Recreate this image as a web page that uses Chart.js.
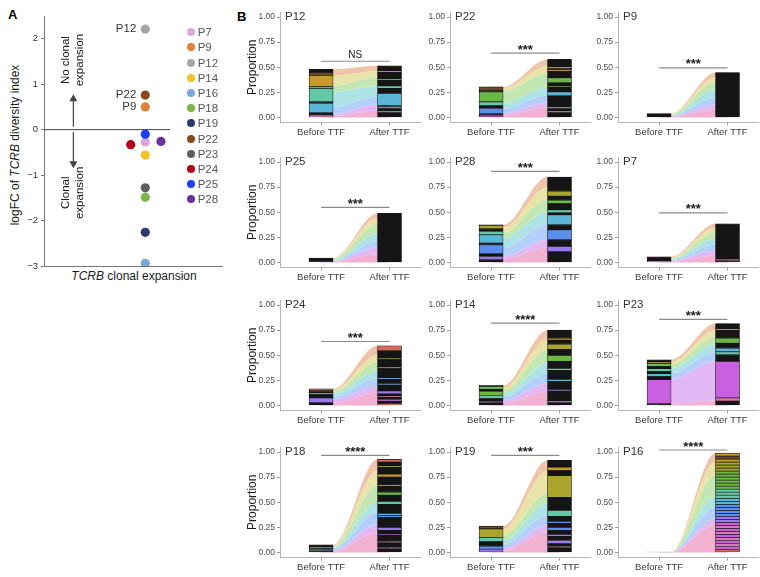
<!DOCTYPE html>
<html>
<head>
<meta charset="utf-8">
<title>TCRB clonal expansion before and after TTF</title>
<script src="https://cdn.jsdelivr.net/npm/chart.js@4.4.1/dist/chart.umd.min.js"></script>
<style>
  html, body { margin:0; padding:0; background:#fff; }
  #fig { position:relative; width:760px; height:577px; overflow:hidden; font-family:'Liberation Sans', Arial, sans-serif; }
  #fig canvas { position:absolute; }
  .txt { position:absolute; white-space:nowrap; line-height:1; color:#1a1a1a; }
  .letter { font-weight:bold; font-size:13px; line-height:13px; color:#000; }
  .leg { position:absolute; left:186.7px; height:12px; display:flex; align-items:center; font-size:11.5px; color:#555; }
  .leg i { display:inline-block; width:8px; height:8px; border-radius:50%; margin-right:3px; }
</style>
</head>
<body>
<div id="fig">
  <div class="txt letter" style="left:8px;top:8px">A</div>
  <div class="txt letter" style="left:237px;top:10px">B</div>
  <div class="txt" style="left:15px;top:145px;font-size:12px;transform:translate(-50%,-50%) rotate(-90deg)">logFC of <i>TCRB</i> diversity index</div>
  <div class="txt" style="left:134px;top:276px;font-size:12px;transform:translate(-50%,-50%)"><i>TCRB</i> clonal expansion</div>
</div>
<script>
// ---------- panel A: logFC of TCRB diversity index ----------
const patients  = ['P7','P9','P12','P14','P16','P18','P19','P22','P23','P24','P25','P28'];
const logFC     = [-0.27, 0.50, 2.21, -0.56, -2.94, -1.49, -2.26, 0.76, -1.28, -0.33, -0.10, -0.26];
const jitterX   = [0.569, 0.569, 0.569, 0.569, 0.569, 0.569, 0.569, 0.569, 0.569, 0.487, 0.569, 0.657];
const dotColors = ['#d8a8dc','#e0803a','#a6a6a6','#f7c12a','#7aa6e0','#7ab648',
                   '#2b3a6e','#8b4a1a','#5e5e5e','#b3001b','#1f3ff5','#6b2fa0'];
const labelled  = ['P12','P22','P9'];
const logTicks  = [-3, -2, -1, 0, 1, 2];

// ---------- panel B: clone proportions before / after TTF ----------
const panelOrder = ['P12','P22','P9','P25','P28','P7','P24','P14','P23','P18','P19','P16'];
const timeLabels = ['Before TTF','After TTF'];
const propTicks  = [0, 0.25, 0.5, 0.75, 1];
const sigText    = ['NS','***','***','***','***','***','***','****','***','****','***','****'];
const sigLevel   = [0.56, 0.64, 0.495, 0.548, 0.907, 0.495, 0.637, 0.82, 0.858, 0.967, 0.967, 1.02];

// bar segments, bottom to top (proportions) and their colour codes
const beforeSegs = [
  [0.012,0.011,0.023,0.094,0.016,0.134,0.02,0.11,0.03,0.03],
  [0.025,0.015,0.05,0.03,0.035,0.1,0.015,0.035],
  [0.04],
  [0.008,0.035],
  [0.027,0.033,0.026,0.09,0.017,0.083,0.033,0.027,0.03,0.009],
  [0.012,0.045],
  [0.026,0.05,0.033,0.02,0.016,0.02],
  [0.03,0.01,0.03,0.03,0.04,0.02,0.03,0.01],
  [0.02,0.237,0.03,0.03,0.02,0.03,0.02,0.03,0.015,0.023],
  [0.02,0.01,0.015,0.01,0.022],
  [0.033,0.03,0.047,0.04,0.085,0.028],
  [0.005]
];
const beforeCols = ['pvksktgynk','mkbktgkn','k','vk','kvkbkstkok','pk','kvkgkr','kmktgkgk','kmksktkgyk','ktkgk','vbkton','k'];
const afterSegs = [
  [0.05,0.015,0.025,0.015,0.015,0.12,0.05,0.025,0.055,0.015,0.065,0.015,0.05],
  [0.05,0.015,0.025,0.015,0.11,0.04,0.045,0.01,0.035,0.05,0.065,0.015,0.015,0.015,0.073],
  [0.448],
  [0.49],
  [0.11,0.05,0.066,0.1,0.049,0.1,0.02,0.03,0.06,0.035,0.04,0.05,0.14],
  [0.02,0.012,0.353],
  [0.02,0.025,0.015,0.025,0.01,0.02,0.03,0.06,0.015,0.04,0.015,0.1,0.01,0.08,0.01,0.07,0.049],
  [0.03,0.015,0.1,0.015,0.08,0.02,0.09,0.02,0.07,0.06,0.06,0.05,0.04,0.02,0.08],
  [0.045,0.03,0.365,0.065,0.03,0.035,0.05,0.05,0.08,0.015,0.05],
  [0.04,0.01,0.05,0.01,0.06,0.01,0.04,0.03,0.1,0.02,0.02,0.09,0.03,0.06,0.03,0.06,0.01,0.08,0.03,0.07,0.01,0.04,0.027],
  [0.05,0.01,0.03,0.03,0.04,0.02,0.04,0.03,0.04,0.02,0.05,0.06,0.13,0.215,0.05,0.035,0.067],
  [0.03,0.03,0.03,0.03,0.03,0.03,0.03,0.03,0.03,0.03,0.03,0.03,0.03,0.03,0.03,0.03,0.03,
   0.03,0.03,0.03,0.03,0.03,0.03,0.03,0.03,0.03,0.03,0.03,0.03,0.03,0.03,0.03,0.03]
];
const afterCols = ['kvkbksktkgkyk','kmkmkskgkgkykyk','k','k','kvkbksktkgkok','kmk','rkmkpkvkskbkokokr',
                   'kmkvksktkgkokyk','kpmktskgkyk','kmkpkmkvkbsktkgkokykokr','kpkvkvkbkbktkokyk',
                   'rmpmpmpmpmvvbbbbsstttggggggoooyny'];

// alluvial flow bands (pink, lilac, blue, cyan, green, yellow, orange), bottom to top
const flowBefore = [
  [0.015,0.02,0.07,0.15,0.06,0.1,0.065],
  [0.02,0.02,0.05,0.05,0.12,0.03,0.015],
  [0.005,0.005,0.006,0.006,0.007,0.006,0.005],
  [0.005,0.005,0.006,0.007,0.008,0.006,0.006],
  [0.03,0.03,0.08,0.1,0.06,0.045,0.03],
  [0.007,0.008,0.008,0.008,0.009,0.009,0.008],
  [0.03,0.03,0.03,0.025,0.02,0.015,0.015],
  [0.025,0.025,0.03,0.03,0.04,0.025,0.025],
  [0.02,0.24,0.06,0.05,0.04,0.025,0.02],
  [0.01,0.01,0.012,0.012,0.013,0.01,0.01],
  [0.02,0.02,0.04,0.04,0.05,0.063,0.03],
  [0.001,0.0005,0.001,0.0005,0.001,0.0005,0.0005]
];
const flowAfter = [
  [0.07,0.06,0.08,0.1,0.09,0.06,0.055],
  [0.1,0.05,0.07,0.08,0.14,0.07,0.068],
  [0.08,0.05,0.07,0.08,0.07,0.05,0.048],
  [0.09,0.06,0.06,0.08,0.09,0.06,0.05],
  [0.15,0.08,0.15,0.12,0.13,0.12,0.1],
  [0.07,0.05,0.06,0.06,0.06,0.045,0.04],
  [0.13,0.06,0.08,0.07,0.09,0.07,0.094],
  [0.14,0.08,0.1,0.1,0.13,0.11,0.09],
  [0.05,0.39,0.09,0.08,0.08,0.06,0.065],
  [0.2,0.08,0.12,0.1,0.17,0.14,0.117],
  [0.2,0.07,0.1,0.12,0.1,0.22,0.107],
  [0.28,0.05,0.12,0.1,0.22,0.13,0.09]
];

// ---------- styles ----------
const FONT = "'Liberation Sans', Arial, sans-serif";
const SEG = { k:'#151515', m:'#c860e0', p:'#e078b0', v:'#9a78ee', b:'#5a8ef0', s:'#5cb6d8', t:'#64c8a6',
              g:'#6cb844', o:'#a8a42c', y:'#c89a2a', n:'#6a4a28', r:'#d86a5a' };
const FLOW_COL = ['rgba(242,168,204,0.9)','rgba(222,176,242,0.9)','rgba(172,202,248,0.9)','rgba(164,224,226,0.9)',
                  'rgba(188,228,170,0.9)','rgba(228,224,160,0.9)','rgba(238,190,160,0.9)'];
const COL_X  = [280, 450, 618];        // pixel x of each column's y axis
const ROW_Y1 = [16.7, 162.3, 305, 451.7]; // pixel y of the 1.00 tick in each row
const UNIT_Y = 100.5, AXIS_W = 44, PAD_TOP = 8, X_AXIS_H = 24.45;
const X_MIN = 0.4, X_MAX = 2.46, PLOT_W = 141, BAR_PX = 24;

Chart.defaults.font.family = FONT;
Chart.defaults.animation = false;

const fig = document.getElementById('fig');
function addCanvas(left, top, w, h) {
  const c = document.createElement('canvas');
  c.width = w; c.height = h;
  c.style.left = left + 'px'; c.style.top = top + 'px';
  c.style.width = w + 'px'; c.style.height = h + 'px';
  fig.appendChild(c);
  return c;
}

// ---------- panel A ----------
const arrowX = 0.165, upArrow = [0.065, 0.78], downArrow = [-0.045, -0.85];
const zeroLineEnd = 0.708;

function arrow(ctx, x, y0, y1) {
  const dir = y1 < y0 ? 1 : -1;
  ctx.beginPath(); ctx.moveTo(x, y0); ctx.lineTo(x, y1 + dir * 6); ctx.stroke();
  ctx.beginPath(); ctx.moveTo(x, y1); ctx.lineTo(x - 4, y1 + dir * 7); ctx.lineTo(x + 4, y1 + dir * 7);
  ctx.closePath(); ctx.fill();
}

const panelAText = {
  id: 'panelAText',
  afterDatasetsDraw(chart) {
    const {ctx, scales: {x, y}} = chart;
    ctx.save();
    ctx.fillStyle = '#333';
    ctx.font = '11.5px ' + FONT;
    ctx.textAlign = 'right'; ctx.textBaseline = 'middle';
    labelled.forEach(p => {
      const i = patients.indexOf(p);
      ctx.fillText(p, x.getPixelForValue(jitterX[i]) - 9, y.getPixelForValue(logFC[i]));
    });
    ctx.strokeStyle = '#444'; ctx.fillStyle = '#444'; ctx.lineWidth = 1.2;
    const ax = x.getPixelForValue(arrowX);
    arrow(ctx, ax, y.getPixelForValue(upArrow[0]), y.getPixelForValue(upArrow[1]));
    arrow(ctx, ax, y.getPixelForValue(downArrow[0]), y.getPixelForValue(downArrow[1]));
    ctx.fillStyle = '#1a1a1a';
    ctx.font = '11.5px ' + FONT;
    ctx.textAlign = 'center';
    const rot = (lines, yv) => {
      lines.forEach((t, k) => {
        ctx.save();
        ctx.translate(x.getPixelForValue(k === 0 ? 0.125 : 0.2), y.getPixelForValue(yv));
        ctx.rotate(-Math.PI / 2);
        ctx.fillText(t, 0, 0);
        ctx.restore();
      });
    };
    rot(['No clonal', 'expansion'], 1.53);
    rot(['Clonal', 'expansion'], -1.39);
    ctx.restore();
  }
};

new Chart(addCanvas(0, 0, 230, 290), {
  type: 'scatter',
  data: {
    datasets: [
      { type: 'line', data: [{x: 0, y: 0}, {x: zeroLineEnd, y: 0}], borderColor: '#444', borderWidth: 1,
        pointRadius: 0, fill: false, order: 1 },
      { data: patients.map((p, i) => ({x: jitterX[i], y: logFC[i]})), pointRadius: 4.6,
        pointBackgroundColor: dotColors, pointBorderWidth: 0, order: 0 }
    ]
  },
  options: {
    responsive: false,
    layout: { padding: { top: 16, right: 8, left: 0, bottom: 0 } },
    plugins: { legend: { display: false }, tooltip: { enabled: false } },
    scales: {
      x: { type: 'linear', min: 0, max: 1, ticks: { display: false }, grid: { display: false },
           border: { color: '#777' }, afterFit: s => { s.height = 24; } },
      y: { min: -3, max: 2.5,
           afterBuildTicks: s => { s.ticks = logTicks.map(v => ({value: v})); },
           afterFit: s => { s.width = 44; },
           grid: { drawOnChartArea: false, tickLength: 3, color: '#777' },
           border: { color: '#777' },
           ticks: { callback: v => String(v).replace('-', '\u2212'), color: '#333', font: { size: 9.5 }, padding: 3 } }
    }
  },
  plugins: [panelAText]
});

// legend of panel A
patients.forEach((p, i) => {
  const d = document.createElement('div');
  d.className = 'leg';
  d.style.top = (32.3 + i * 15.18 - 6) + 'px';
  d.innerHTML = `<i style="background:${dotColors[i]}"></i>${p}`;
  fig.appendChild(d);
});

// ---------- panel B ----------
const panelText = {
  id: 'panelText',
  afterDatasetsDraw(chart, args, o) {
    const {ctx, chartArea, scales: {x, yf}} = chart;
    ctx.save();
    ctx.fillStyle = '#333';
    ctx.font = '11.5px ' + FONT;
    ctx.textAlign = 'left'; ctx.textBaseline = 'middle';
    ctx.fillText(o.title, chartArea.left + 5, yf.getPixelForValue(1));
    const mx = x.getPixelForValue(1.5), ly = yf.getPixelForValue(o.level);
    ctx.textAlign = 'center'; ctx.textBaseline = 'alphabetic';
    ctx.fillStyle = '#1a1a1a';
    if (o.sig === 'NS') { ctx.font = '10px ' + FONT; ctx.fillText(o.sig, mx, ly - 3.5); }
    else { ctx.font = 'bold 13px ' + FONT; ctx.fillText(o.sig, mx, ly + 0.5); }
    ctx.restore();
  }
};

panelOrder.forEach((name, k) => {
  const col = k % 3, row = Math.floor(k / 3);
  const top = Math.round(ROW_Y1[row] - 0.05 * UNIT_Y - PAD_TOP);
  const h = Math.round(PAD_TOP + 1.1 * UNIT_Y + X_AXIS_H);
  const cv = addCanvas(COL_X[col] - AXIS_W, top, AXIS_W + PLOT_W, h);
  const hw = (BAR_PX / 2) / (PLOT_W / (X_MAX - X_MIN));

  const datasets = [];
  const bS = beforeSegs[k], aS = afterSegs[k], bC = beforeCols[k], aC = afterCols[k];
  const nSeg = Math.max(bS.length, aS.length);
  for (let i = 0; i < nSeg; i++) {
    datasets.push({
      type: 'bar', stack: 's', order: 0, yAxisID: 'y',
      data: [{x: 1, y: i < bS.length ? bS[i] : null}, {x: 2, y: i < aS.length ? aS[i] : null}],
      backgroundColor: [SEG[bC[i]] || SEG.k, SEG[aC[i]] || SEG.k],
      borderColor: '#161616', borderWidth: 0.7, borderSkipped: false, barThickness: BAR_PX
    });
  }
  let cb = 0, ca = 0;
  flowBefore[k].forEach((v, j) => {
    cb += v; ca += flowAfter[k][j];
    datasets.push({
      type: 'line', order: 2, yAxisID: 'yf',
      data: [{x: 1, y: cb}, {x: 1 + hw, y: cb}, {x: 2 - hw, y: ca}, {x: 2, y: ca}],
      cubicInterpolationMode: 'monotone', borderColor: 'rgba(0,0,0,0)', borderWidth: 0,
      pointRadius: 0, backgroundColor: FLOW_COL[j], fill: j === 0 ? 'origin' : '-1'
    });
  });
  datasets.push({
    type: 'line', order: 0, yAxisID: 'yf',
    data: [{x: 1, y: sigLevel[k]}, {x: 2, y: sigLevel[k]}],
    borderColor: '#8c8c8c', borderWidth: 1.2, pointRadius: 0, fill: false
  });

  new Chart(cv, {
    type: 'bar',
    data: { datasets },
    options: {
      responsive: false,
      layout: { padding: { top: PAD_TOP, right: 0, left: 0, bottom: 0 } },
      plugins: { legend: { display: false }, tooltip: { enabled: false },
                 panelText: { title: name, sig: sigText[k], level: sigLevel[k] } },
      scales: {
        x: { type: 'linear', min: X_MIN, max: X_MAX, offset: false,
             afterBuildTicks: s => { s.ticks = [{value: 1}, {value: 2}]; },
             afterFit: s => { s.height = X_AXIS_H; },
             grid: { offset: false, drawOnChartArea: false, tickLength: 3, color: '#9a9a9a' },
             border: { color: '#b5b5b5' },
             ticks: { callback: v => timeLabels[Math.round(v) - 1], color: '#3a3a3a', font: { size: 9.5 },
                      padding: 1, maxRotation: 0, autoSkip: false } },
        y: { stacked: true, min: -0.05, max: 1.05,
             afterBuildTicks: s => { s.ticks = propTicks.map(v => ({value: v})); },
             afterFit: s => { s.width = AXIS_W; },
             grid: { drawOnChartArea: false, tickLength: 3, color: '#9a9a9a' },
             border: { color: '#b5b5b5' },
             ticks: { callback: v => v.toFixed(2), color: '#4d4d4d', font: { size: 8.5 }, padding: 2 },
             title: { display: col === 0, text: 'Proportion', color: '#1a1a1a', font: { size: 12 },
                      padding: { top: 9, bottom: 0 } } },
        yf: { display: false, min: -0.05, max: 1.05 }
      }
    },
    plugins: [panelText]
  });
});
</script>
</body>
</html>
